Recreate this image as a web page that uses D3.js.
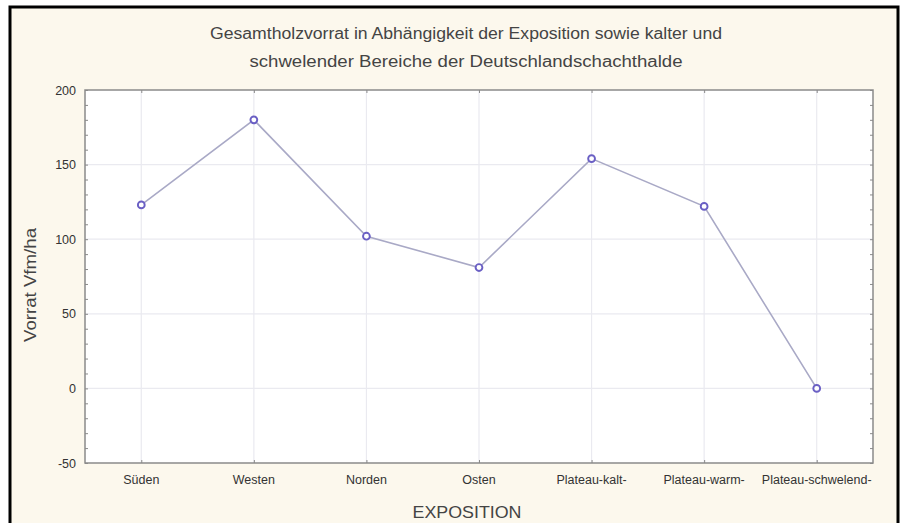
<!DOCTYPE html>
<html>
<head>
<meta charset="utf-8">
<script src="https://cdn.jsdelivr.net/npm/d3@7"></script>
<style>
  html, body { margin: 0; padding: 0; background: #ffffff; }
  svg { display: block; font-family: "Liberation Sans", Arial, sans-serif; }
</style>
</head>
<body>
<svg id="chart" width="903" height="523"></svg>
<script>
// Holzvorrat je Exposition (Vfm/ha)
const categories = ["Süden", "Westen", "Norden", "Osten", "Plateau-kalt-", "Plateau-warm-", "Plateau-schwelend-"];
const vorrat = [123, 180, 102, 81, 154, 122, 0];
const yTicks = [-50, 0, 50, 100, 150, 200];
const titleLines = [
  "Gesamtholzvorrat in Abhängigkeit der Exposition sowie kalter und",
  "schwelender Bereiche der Deutschlandschachthalde"
];
const xTitle = "EXPOSITION";
const yTitle = "Vorrat Vfm/ha";

const svg = d3.select("#chart");

// outer frame
svg.append("rect")
  .attr("x", 10).attr("y", 7)
  .attr("width", 888).attr("height", 530)
  .attr("fill", "#fcf8ed")
  .attr("stroke", "#000").attr("stroke-width", 3);

const plot = { left: 85, top: 90, right: 873, bottom: 463 };

const x = d3.scalePoint()
  .domain(categories)
  .range([plot.left, plot.right])
  .padding(0.5);

const y = d3.scaleLinear()
  .domain([-50, 200])
  .range([plot.bottom, plot.top]);

// plot background
svg.append("rect")
  .attr("x", plot.left).attr("y", plot.top)
  .attr("width", plot.right - plot.left).attr("height", plot.bottom - plot.top)
  .attr("fill", "#ffffff");

// grid lines
const grid = svg.append("g").attr("stroke", "#eaeaf0").attr("stroke-width", 1.2);
grid.selectAll("line.h").data(yTicks.filter(t => t > -50 && t < 200)).join("line")
  .attr("x1", plot.left).attr("x2", plot.right)
  .attr("y1", d => y(d)).attr("y2", d => y(d));
grid.selectAll("line.v").data(categories).join("line")
  .attr("x1", d => x(d)).attr("x2", d => x(d))
  .attr("y1", plot.top).attr("y2", plot.bottom);

// axes: left with labels, others mirrored as tick-only
const minorTicks = d3.range(-50, 201, 10);
const axisColor = "#8a8a8a";

function styleAxis(g) {
  g.select(".domain").remove();
  g.selectAll(".tick line").attr("stroke", axisColor);
}

const yLeft = svg.append("g")
  .attr("transform", `translate(${plot.left},0)`)
  .call(d3.axisLeft(y).tickValues(yTicks).tickSize(0).tickPadding(9).tickFormat(d => String(d)));
yLeft.select(".domain").remove();
yLeft.selectAll("text")
  .attr("font-size", 12.5).attr("fill", "#333")
  .attr("font-family", "Liberation Sans, Arial, sans-serif");

// minor ticks, inward on left and right
svg.append("g").attr("transform", `translate(${plot.left},0)`)
  .call(d3.axisRight(y).tickValues(minorTicks).tickSize(3).tickFormat(""))
  .call(styleAxis);
svg.append("g").attr("transform", `translate(${plot.right},0)`)
  .call(d3.axisLeft(y).tickValues(minorTicks).tickSize(3).tickFormat(""))
  .call(styleAxis);

// category ticks top and bottom
const xBottom = svg.append("g")
  .attr("transform", `translate(0,${plot.bottom})`)
  .call(d3.axisTop(x).tickSize(3).tickPadding(0));
xBottom.select(".domain").remove();
xBottom.selectAll(".tick line").attr("stroke", axisColor);
xBottom.selectAll("text").remove();

svg.append("g").attr("transform", `translate(0,${plot.top})`)
  .call(d3.axisBottom(x).tickSize(3).tickFormat(""))
  .call(styleAxis);

// category labels
svg.append("g").selectAll("text").data(categories).join("text")
  .attr("x", d => x(d))
  .attr("y", 484)
  .attr("text-anchor", "middle")
  .attr("font-size", 12.5)
  .attr("fill", "#333")
  .text(d => d);

// plot frame
svg.append("rect")
  .attr("x", plot.left).attr("y", plot.top)
  .attr("width", plot.right - plot.left).attr("height", plot.bottom - plot.top)
  .attr("fill", "none")
  .attr("stroke", axisColor).attr("stroke-width", 1.5);

// series line
const line = d3.line()
  .x((d, i) => x(categories[i]))
  .y(d => y(d));
svg.append("path")
  .datum(vorrat)
  .attr("d", line)
  .attr("fill", "none")
  .attr("stroke", "#a9a9c6")
  .attr("stroke-width", 1.6);

// markers
svg.append("g").selectAll("circle").data(vorrat).join("circle")
  .attr("cx", (d, i) => x(categories[i]))
  .attr("cy", d => y(d))
  .attr("r", 3.4)
  .attr("fill", "#ffffff")
  .attr("stroke", "#6a5fc4")
  .attr("stroke-width", 1.9);

// title
const titleWidths = [512, 433];
svg.append("g").selectAll("text").data(titleLines).join("text")
  .attr("x", 466)
  .attr("y", (d, i) => 39 + i * 28)
  .attr("text-anchor", "middle")
  .attr("font-size", 16)
  .attr("fill", "#444")
  .attr("textLength", (d, i) => titleWidths[i])
  .attr("lengthAdjust", "spacingAndGlyphs")
  .text(d => d);

// axis titles
svg.append("text")
  .attr("x", 467).attr("y", 518)
  .attr("text-anchor", "middle")
  .attr("font-size", 17)
  .attr("fill", "#444")
  .attr("textLength", 109)
  .attr("lengthAdjust", "spacingAndGlyphs")
  .text(xTitle);

svg.append("text")
  .attr("transform", "translate(36,285) rotate(-90)")
  .attr("text-anchor", "middle")
  .attr("font-size", 17)
  .attr("fill", "#444")
  .attr("textLength", 114)
  .attr("lengthAdjust", "spacingAndGlyphs")
  .text(yTitle);
</script>
</body>
</html>
